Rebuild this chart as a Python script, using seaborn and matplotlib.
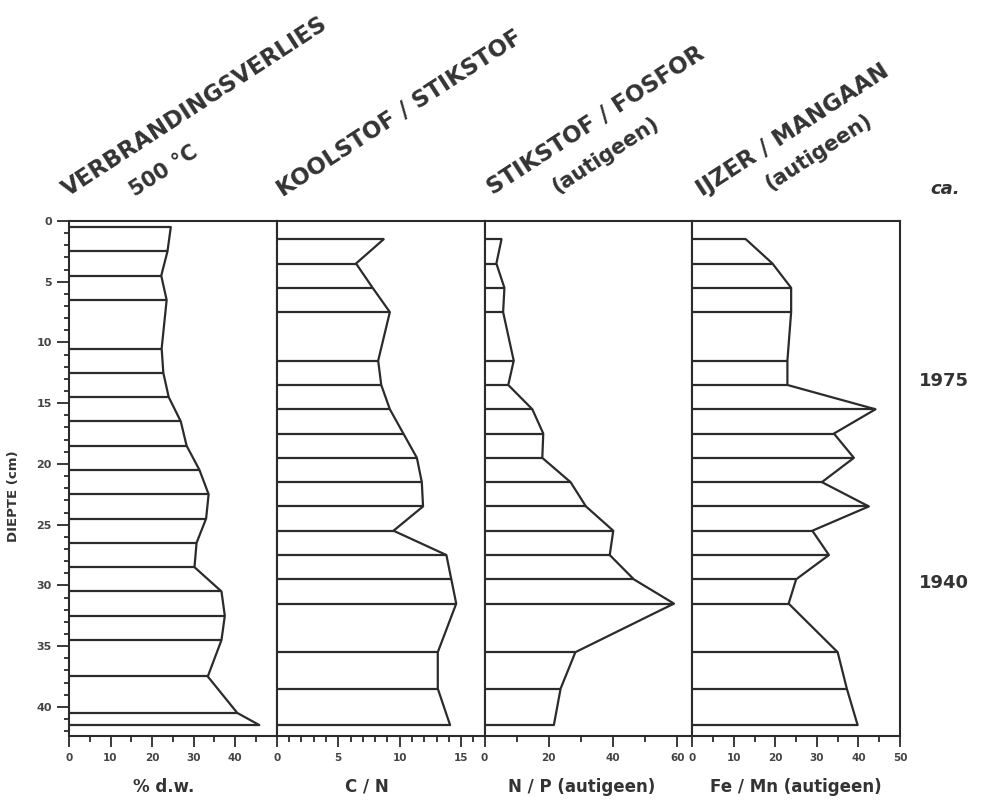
#!/usr/bin/env python3
import matplotlib
matplotlib.use("Agg")
import matplotlib.pyplot as plt
import matplotlib.transforms as mtransforms
from matplotlib.ticker import FixedLocator
import numpy as np
import pandas as pd
import seaborn as sns

# sample depths (cm)
DEPTH_LOI = [0.5, 2.5, 4.5, 6.5, 10.5, 12.5, 14.5, 16.5, 18.5, 20.5,
             22.5, 24.5, 26.5, 28.5, 30.5, 32.5, 34.5, 37.5, 40.5, 41.5]
DEPTH_RATIO = [1.5, 3.5, 5.5, 7.5, 11.5, 13.5, 15.5, 17.5, 19.5, 21.5,
               23.5, 25.5, 27.5, 29.5, 31.5, 35.5, 38.5, 41.5]

# values
LOI = [24.5, 23.7, 22.2, 23.5, 22.3, 22.7, 24.0, 26.9, 28.3, 31.4,
       33.6, 33.0, 30.7, 30.2, 36.7, 37.5, 36.7, 33.4, 40.5, 45.8]
C_N = [8.7, 6.45, 7.8, 9.2, 8.25, 8.5, 9.2, 10.3, 11.4, 11.8,
       11.9, 9.5, 13.8, 14.2, 14.6, 13.1, 13.1, 14.1]
N_P = [5.3, 3.7, 6.2, 5.8, 9.1, 7.4, 14.9, 18.3, 18.0, 26.8,
       31.6, 40.1, 39.0, 46.5, 59.0, 28.3, 23.7, 21.6]
FE_MN = [12.9, 19.3, 23.8, 23.8, 22.9, 22.9, 44.1, 34.1, 38.9, 31.2,
         42.5, 28.9, 32.9, 25.0, 23.2, 35.0, 37.2, 39.8]

TITLES = [("VERBRANDINGSVERLIES", "500 °C"),
          ("KOOLSTOF / STIKSTOF", None),
          ("STIKSTOF / FOSFOR", "(autigeen)"),
          ("IJZER / MANGAAN", "(autigeen)")]
XLABELS = ["% d.w.", "C / N", "N / P (autigeen)", "Fe / Mn (autigeen)"]
YEARS = ["1975", "1940"]
YEAR_DEPTHS = [13.2, 29.8]

W, H = 986, 807
INK = "#2b2b2b"

sns.set_style("ticks")
plt.rcParams["font.family"] = ["DejaVu Sans"]

panels = [
    (DEPTH_LOI, LOI, 50, range(0, 41, 10), range(5, 46, 10)),
    (DEPTH_RATIO, C_N, 16.9, range(0, 16, 5), [i for i in range(1, 17) if i % 5]),
    (DEPTH_RATIO, N_P, 64.7, range(0, 61, 20), range(10, 61, 20)),
    (DEPTH_RATIO, FE_MN, 50, range(0, 51, 10), range(5, 46, 10)),
]
label_x = [0.457, 0.434, 0.469, 0.5]

fig = plt.figure(figsize=(W / 100, H / 100), dpi=100)
left, right, top, bottom = 69 / W, 900 / W, 1 - 221 / H, 1 - 736 / H
pw = (right - left) / 4

axes = []
for i, (depth, vals, xmax, major, minor) in enumerate(panels):
    ax = fig.add_axes([left + i * pw, bottom, pw, top - bottom])
    df = pd.DataFrame({"depth": depth, "value": vals})
    ax.hlines(df["depth"], 0, df["value"], color=INK, lw=1.6)
    sns.lineplot(data=df, x="value", y="depth", orient="y", sort=False,
                 estimator=None, color=INK, lw=1.6, ax=ax)
    ax.set_xlim(0, xmax)
    ax.set_ylim(42.4, 0)
    ax.xaxis.set_major_locator(FixedLocator(list(major)))
    ax.xaxis.set_minor_locator(FixedLocator(list(minor)))
    ax.tick_params(axis="x", which="both", bottom=True, top=False)
    ax.tick_params(axis="x", which="major", direction="out", length=8, width=1.3,
                   color=INK, labelsize=7.5, labelcolor="#444", pad=4)
    ax.tick_params(axis="x", which="minor", direction="out", length=4, width=1.3, color=INK)
    for lab in ax.get_xticklabels():
        lab.set_fontweight("bold")
    if i == 0:
        ax.yaxis.set_major_locator(FixedLocator(list(range(0, 41, 5))))
        ax.yaxis.set_minor_locator(FixedLocator(list(range(1, 43))))
        ax.tick_params(axis="y", which="both", left=True, right=False)
        ax.tick_params(axis="y", which="major", direction="out", length=8.5, width=1.3,
                       color=INK, labelsize=8, labelcolor="#444", pad=4)
        ax.tick_params(axis="y", which="minor", direction="out", length=3.5, width=1.3, color=INK)
        for lab in ax.get_yticklabels():
            lab.set_fontweight("bold")
        ax.set_ylabel("DIEPTE (cm)", fontsize=9.5, fontweight="bold", color="#333")
        ax.yaxis.set_label_coords(-0.235, 0.466)
    else:
        ax.set_yticks([])
        ax.set_ylabel("")
    ax.set_xlabel("")
    for sp in ax.spines.values():
        sp.set_visible(True)
        sp.set_color(INK)
        sp.set_linewidth(1.5)
    ax.text(label_x[i], -0.099, XLABELS[i], transform=ax.transAxes, ha="center", va="center",
            fontsize=12, fontweight="bold", color="#333")
    axes.append(ax)

# rotated column headings
line1_pos = [(68, 197), (283, 197), (493, 195), (702, 197)]
line2_pos = [(135, 197), None, (557, 194), (770, 191)]
for (t1, t2), p1, p2 in zip(TITLES, line1_pos, line2_pos):
    fig.text(p1[0] / W, 1 - p1[1] / H, t1, rotation=33, rotation_mode="anchor",
             ha="left", va="baseline", fontsize=16.5, fontweight="bold", color="#333")
    if t2:
        fig.text(p2[0] / W, 1 - p2[1] / H, t2, rotation=33, rotation_mode="anchor",
                 ha="left", va="baseline", fontsize=15, fontweight="bold", color="#333")

fig.text(930 / W, 1 - 194 / H, "ca.", ha="left", va="baseline", fontsize=13,
         fontweight="bold", fontstyle="italic", color="#333")

trans = mtransforms.blended_transform_factory(axes[-1].transAxes, axes[-1].transData)
for yr, d in zip(YEARS, YEAR_DEPTHS):
    axes[-1].text(1.09, d, yr, transform=trans, ha="left", va="center",
                  fontsize=13, fontweight="bold", color="#333")

fig.savefig("out.png", dpi=100, facecolor="white")
